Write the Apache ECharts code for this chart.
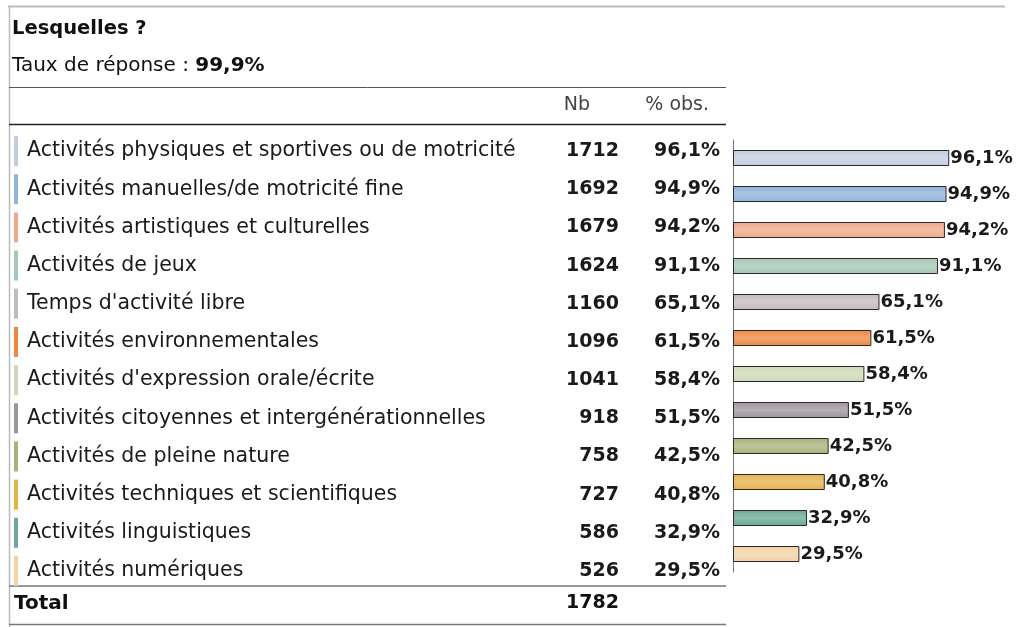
<!DOCTYPE html>
<html>
<head>
<meta charset="utf-8">
<script src="https://cdn.jsdelivr.net/npm/echarts@6/dist/echarts.min.js"></script>
<style>
html,body{margin:0;padding:0;background:#fff;}
#chart{width:1027px;height:627px;}
</style>
</head>
<body>
<div id="chart"></div>
<script>
// ---- data ----
const categories = [
  "Activités physiques et sportives ou de motricité",
  "Activités manuelles/de motricité fine",
  "Activités artistiques et culturelles",
  "Activités de jeux",
  "Temps d'activité libre",
  "Activités environnementales",
  "Activités d'expression orale/écrite",
  "Activités citoyennes et intergénérationnelles",
  "Activités de pleine nature",
  "Activités techniques et scientifiques",
  "Activités linguistiques",
  "Activités numériques"
];
const counts = [1712, 1692, 1679, 1624, 1160, 1096, 1041, 918, 758, 727, 586, 526];
const percents = [96.1, 94.9, 94.2, 91.1, 65.1, 61.5, 58.4, 51.5, 42.5, 40.8, 32.9, 29.5];
const total = 1782;
const responseRate = "99,9%";
const title = "Lesquelles ?";
const headers = ["Nb", "% obs."];

// ---- styles ----
const colors = ["#c3cde0","#8fb3d9","#eea98a","#a5c7b5","#c4b9be","#ee8743",
                "#cdd8b7","#9e949e","#a7b37c","#e6b24a","#6aaa94","#f2d2a6"];

function fmtPct(v){ return v.toFixed(1).replace('.', ',') + '%'; }
function lighten(hex, f){
  const n = parseInt(hex.slice(1),16);
  let r=(n>>16)&255,g=(n>>8)&255,b=n&255;
  r=Math.round(r+(255-r)*f);g=Math.round(g+(255-g)*f);b=Math.round(b+(255-b)*f);
  return 'rgb('+r+','+g+','+b+')';
}

const FONT = "DejaVu Sans";
const rich = {
  gap:{width:9, align:'left'},
  name:{width:533, align:'left', fontFamily:FONT, fontSize:20.5, color:'#1a1a1a', verticalAlign:'middle'},
  nb:{width:59, align:'right', fontFamily:FONT, fontSize:19, fontWeight:'bold', color:'#1a1a1a', verticalAlign:'middle'},
  pct:{width:101, align:'right', fontFamily:FONT, fontSize:19, fontWeight:'bold', color:'#1a1a1a', verticalAlign:'middle'}
};
colors.forEach((c,i)=>{ rich['m'+i] = {backgroundColor:c, width:4, height:30, align:'left', verticalAlign:'middle'}; });

const chart = echarts.init(document.getElementById('chart'));
chart.setOption({
  animation:false,
  backgroundColor:'#fff',
  grid:[
    {left:725, top:132, width:1, height:458},
    {left:733, top:140, width:225, height:432}
  ],
  xAxis:[
    {gridIndex:0, type:'value', show:false},
    {gridIndex:1, type:'value', min:0, max:100, show:false}
  ],
  yAxis:[
    {gridIndex:0, type:'category', inverse:true, data:categories,
     axisLine:{show:false}, axisTick:{show:false}, splitLine:{show:false},
     axisLabel:{margin:5, align:'right',
       formatter:(v,i)=>'{m'+i+'|}{gap|}{name|'+v+'}{nb|'+counts[i]+'}{pct|'+fmtPct(percents[i])+'}',
       rich:rich}},
    {gridIndex:1, type:'category', inverse:true, data:categories,
     axisLine:{show:true, lineStyle:{color:'#777', width:1}}, axisTick:{show:false},
     axisLabel:{show:false}, splitLine:{show:false}}
  ],
  series:[{
    type:'bar', xAxisIndex:1, yAxisIndex:1, barWidth:16,
    data:percents.map((v,i)=>({value:v, itemStyle:{
      color:new echarts.graphic.LinearGradient(0,0,0,1,[
        {offset:0,color:colors[i]},{offset:0.5,color:lighten(colors[i],0.25)},{offset:1,color:colors[i]}]),
      borderColor:'#2a2a2a', borderWidth:1}})),
    label:{show:true, position:'right', distance:1, fontFamily:FONT, fontSize:18, fontWeight:'bold', color:'#1a1a1a',
      formatter:p=>fmtPct(p.value)}
  }],
  graphic:[
    {type:'line', shape:{x1:8,y1:6.5,x2:1005,y2:6.5}, style:{stroke:'#bbb', lineWidth:2}},
    {type:'line', shape:{x1:9.5,y1:6,x2:9.5,y2:627}, style:{stroke:'#bbb', lineWidth:1.5}},
    {type:'text', left:12, top:19, style:{text:title, font:'bold 19.5px "DejaVu Sans"', fill:'#111'}},
    {type:'text', left:12, top:56, style:{
      text:'{r|Taux de réponse : }{b|'+responseRate+'}',
      rich:{r:{fontFamily:'DejaVu Sans', fontSize:20, fill:'#111'}, b:{fontFamily:'DejaVu Sans', fontSize:20, fontWeight:'bold', fill:'#111'}}}},
    {type:'line', shape:{x1:9,y1:87.5,x2:726,y2:87.5}, style:{stroke:'#555', lineWidth:1}},
    {type:'line', shape:{x1:9,y1:124.5,x2:726,y2:124.5}, style:{stroke:'#222', lineWidth:1.5}},
    {type:'text', right:1027-590, top:96, style:{text:headers[0], font:'19px "DejaVu Sans"', fill:'#444', textAlign:'right'}},
    {type:'text', right:1027-709, top:96, style:{text:headers[1], font:'19px "DejaVu Sans"', fill:'#444', textAlign:'right'}},
    {type:'line', shape:{x1:9,y1:586,x2:726,y2:586}, style:{stroke:'#777', lineWidth:1.5}},
    {type:'text', left:14, top:594, style:{text:'Total', font:'bold 20px "DejaVu Sans"', fill:'#111'}},
    {type:'text', right:1027-619, top:594, style:{text:String(total), font:'bold 19px "DejaVu Sans"', fill:'#111', textAlign:'right'}},
    {type:'line', shape:{x1:9,y1:624.5,x2:726,y2:624.5}, style:{stroke:'#777', lineWidth:1.5}}
  ]
});
</script>
</body>
</html>
